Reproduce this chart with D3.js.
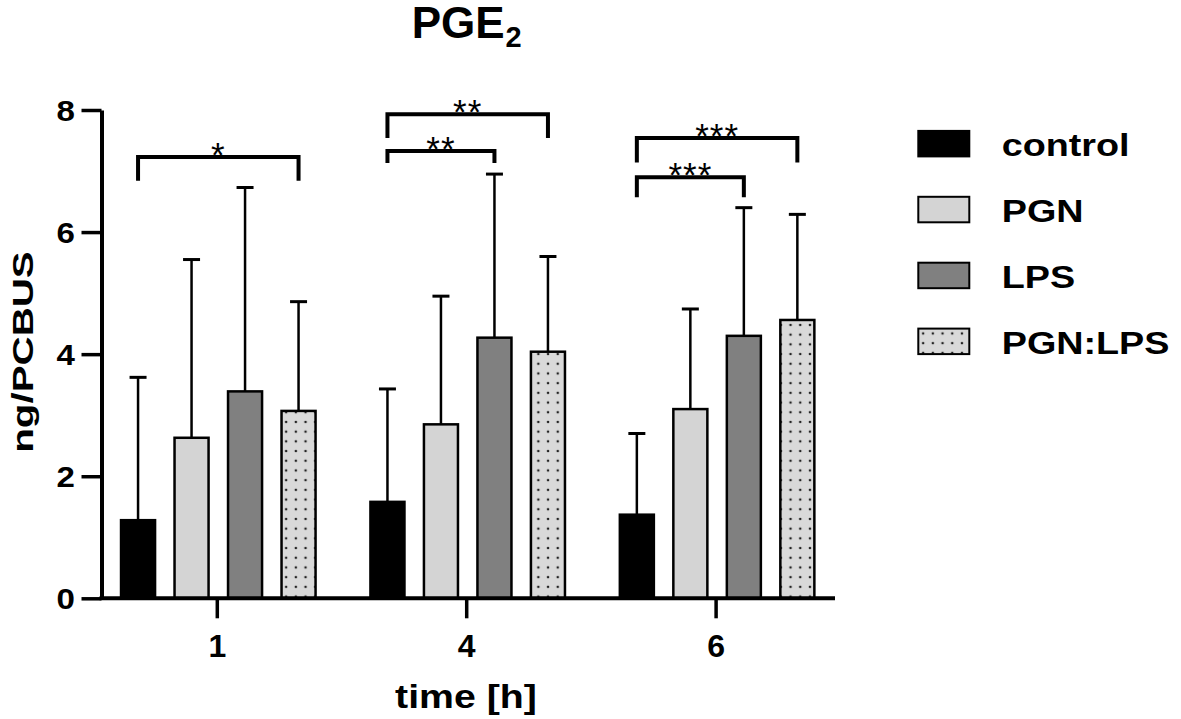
<!DOCTYPE html>
<html><head><meta charset="utf-8">
<script src="https://cdn.jsdelivr.net/npm/d3@7"></script>
<style>
body{margin:0;background:#fff}
text{font-family:"Liberation Sans",Arial,Helvetica,sans-serif;fill:#000}
</style>
</head><body>
<svg id="chart" width="1181" height="719"></svg>
<script>
// ---------- data ----------
const timepoints = ["1", "4", "6"];
const seriesNames = ["control", "PGN", "LPS", "PGN:LPS"];
const controlMean = [1.28, 1.58, 1.37];
const controlUpper = [3.62, 3.43, 2.70];
const pgnMean = [2.63, 2.85, 3.10];
const pgnUpper = [5.55, 4.95, 4.74];
const lpsMean = [3.39, 4.27, 4.30];
const lpsUpper = [6.73, 6.95, 6.40];
const pgnLpsMean = [3.07, 4.04, 4.56];
const pgnLpsUpper = [4.86, 5.60, 6.29];
const yTicks = [0, 2, 4, 6, 8];
const bracketTime = ["1", "4", "4", "6", "6"];
const bracketFrom = ["control", "control", "control", "control", "control"];
const bracketTo = ["PGN:LPS", "PGN:LPS", "LPS", "PGN:LPS", "LPS"];
const bracketLevel = [7.23, 7.93, 7.33, 7.54, 6.90];
const bracketFoot = [6.84, 7.54, 7.13, 7.14, 6.57];
const bracketLabel = ["*", "**", "**", "***", "***"];
const titleText = "PGE";
const titleSub = "2";
const yLabel = "ng/PCBUS";
const xLabel = "time [h]";

// ---------- build table ----------
const means = [controlMean, pgnMean, lpsMean, pgnLpsMean];
const uppers = [controlUpper, pgnUpper, lpsUpper, pgnLpsUpper];
const rows = [];
timepoints.forEach((t, ti) => seriesNames.forEach((s, si) =>
  rows.push({time: t, series: s, mean: means[si][ti], upper: uppers[si][ti]})));
const brackets = bracketTime.map((t, i) => ({time: t, from: bracketFrom[i], to: bracketTo[i],
  level: bracketLevel[i], foot: bracketFoot[i], label: bracketLabel[i]}));

// ---------- styles ----------
const fills = {"control": "#000000", "PGN": "#d4d4d4", "LPS": "#808080", "PGN:LPS": "url(#dots)"};

const svg = d3.select("#chart");
const defs = svg.append("defs");
const pat = defs.append("pattern").attr("id", "dots")
  .attr("patternUnits", "userSpaceOnUse").attr("width", 9.7).attr("height", 9.7);
pat.append("rect").attr("width", 9.7).attr("height", 9.7).attr("fill", "#d9d9d9");
pat.append("circle").attr("cx", 4.85).attr("cy", 4.85).attr("r", 1.3).attr("fill", "#222");

// ---------- scales ----------
const y = d3.scaleLinear().domain([0, 8]).range([598.3, 110]);
const x0 = d3.scaleBand().domain(timepoints).range([92.6, 840.8]).padding(0);
const x1 = d3.scaleBand().domain(seriesNames).range([-106, 108])
  .paddingInner(0.364).paddingOuter(0.182);
const center = t => x0(t) + x0.bandwidth() / 2;
const barCx = d => center(d.time) + x1(d.series) + x1.bandwidth() / 2;

// ---------- bars ----------
const g = svg.append("g");
g.selectAll("rect.bar").data(rows).join("rect").attr("class", "bar")
  .attr("x", d => center(d.time) + x1(d.series))
  .attr("width", x1.bandwidth())
  .attr("y", d => y(d.mean))
  .attr("height", d => y(0) - y(d.mean))
  .attr("fill", d => fills[d.series])
  .attr("stroke", "#000").attr("stroke-width", 2.5);

// error bars (upper only)
g.selectAll("line.stem").data(rows).join("line").attr("class", "stem")
  .attr("x1", barCx).attr("x2", barCx)
  .attr("y1", d => y(d.mean)).attr("y2", d => y(d.upper))
  .attr("stroke", "#000").attr("stroke-width", 2.5);
g.selectAll("line.cap").data(rows).join("line").attr("class", "cap")
  .attr("x1", d => barCx(d) - 8.5).attr("x2", d => barCx(d) + 8.5)
  .attr("y1", d => y(d.upper)).attr("y2", d => y(d.upper))
  .attr("stroke", "#000").attr("stroke-width", 3);

// ---------- axes ----------
const yAxis = svg.append("g").attr("transform", "translate(101.5,0)")
  .call(d3.axisLeft(y).tickValues(yTicks).tickSize(20).tickSizeOuter(0).tickFormat(d3.format("d")));
yAxis.select(".domain").attr("stroke-width", 4);
yAxis.selectAll(".tick line").attr("stroke-width", 3.5);
yAxis.selectAll(".tick text")
  .attr("x", 0).attr("dy", null).attr("y", 10.3)
  .attr("transform", "translate(-26.5,0) scale(1.14,1)")
  .style("font-size", "29px").style("font-weight", "bold")
  .attr("fill", "#000").attr("font-family", null);

const xAxis = svg.append("g").attr("transform", `translate(0,${y(0)})`)
  .call(d3.axisBottom(x0).tickSize(20).tickSizeOuter(0));
xAxis.select(".domain").remove();
xAxis.append("line").attr("x1", 99.5).attr("x2", 835).attr("y1", 0).attr("y2", 0)
  .attr("stroke", "#000").attr("stroke-width", 4);
xAxis.selectAll(".tick line").attr("stroke-width", 3.5);
xAxis.selectAll(".tick text").attr("y", 59).attr("dy", null)
  .style("font-size", "32px").style("font-weight", "bold")
  .attr("fill", "#000").attr("font-family", null);

// ---------- significance brackets ----------
const bx = (t, s) => center(t) + x1(s) + x1.bandwidth() / 2;
const bg = svg.append("g");
bg.selectAll("path.br").data(brackets).join("path").attr("class", "br")
  .attr("d", d => `M${bx(d.time, d.from)},${y(d.foot)}V${y(d.level)}H${bx(d.time, d.to)}V${y(d.foot)}`)
  .attr("fill", "none").attr("stroke", "#000").attr("stroke-width", 4)
  .attr("stroke-linejoin", "miter");
bg.selectAll("text.star").data(brackets).join("text").attr("class", "star")
  .attr("x", d => (bx(d.time, d.from) + bx(d.time, d.to)) / 2)
  .attr("y", d => y(d.level) + 10)
  .attr("text-anchor", "middle")
  .style("font-size", "35px").style("letter-spacing", "1px")
  .text(d => d.label);

// ---------- title ----------
const title = svg.append("text").attr("x", 411.7).attr("y", 37.5)
  .style("font-size", "44px").style("font-weight", "bold");
title.append("tspan").text(titleText);
title.append("tspan").attr("dy", 9.5).attr("dx", 1).style("font-size", "29px").text(titleSub);

// ---------- axis titles ----------
svg.append("text")
  .attr("transform", "translate(33,352) rotate(-90) scale(1.39,1)")
  .attr("text-anchor", "middle")
  .style("font-size", "29px").style("font-weight", "bold")
  .text(yLabel);
svg.append("text")
  .attr("transform", "translate(466,708.3) scale(1.19,1)")
  .attr("text-anchor", "middle")
  .style("font-size", "33px").style("font-weight", "bold")
  .text(xLabel);

// ---------- legend ----------
const lg = svg.append("g").selectAll("g").data(seriesNames).join("g")
  .attr("transform", (d, i) => `translate(918.3,${130.9 + i * 65.9})`);
lg.append("rect").attr("width", 51).attr("height", 25.5)
  .attr("fill", d => fills[d]).attr("stroke", "#000").attr("stroke-width", 2);
lg.append("text").attr("transform", "translate(83.4,25.5) scale(1.18,1)")
  .style("font-size", "32px").style("font-weight", "bold")
  .text(d => d);
</script>
</body></html>
